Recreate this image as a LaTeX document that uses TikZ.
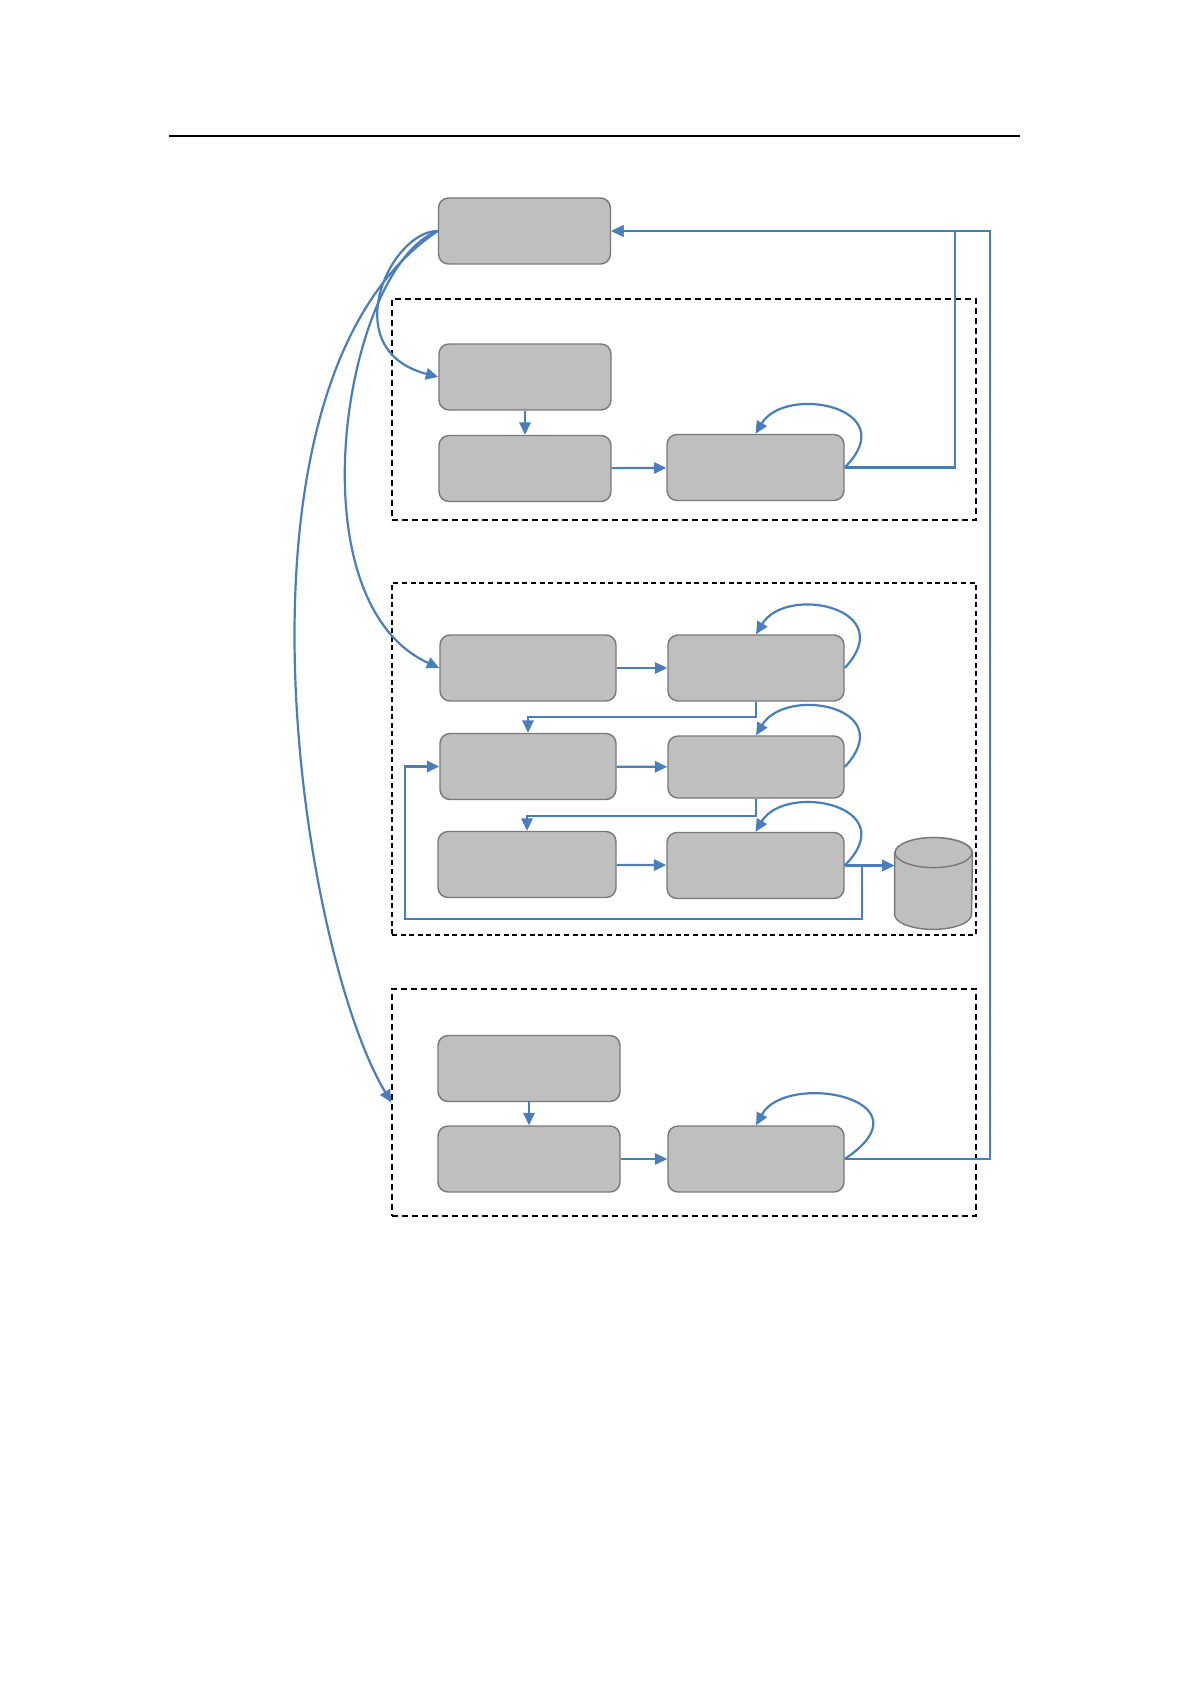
\documentclass[tikz,border=0pt]{standalone}
\usetikzlibrary{arrows.meta,positioning,calc,shapes.geometric}
\definecolor{flowblue}{RGB}{74,126,187}
\definecolor{boxgray}{RGB}{191,191,191}
\definecolor{boxline}{RGB}{120,120,120}
\tikzset{
  >={Triangle[length=2.2mm,width=2mm]},
  gbox/.style={draw=boxline, fill=boxgray, rounded corners=5pt, line width=0.7pt,
               minimum width=86pt, minimum height=33pt, inner sep=0pt},
  grpframe/.style={draw, dashed, line width=0.6pt, dash pattern=on 3pt off 2pt,
                   minimum width=292pt, inner sep=0pt},
  arr/.style={->, draw=flowblue, line width=1.1pt},
  selfloop/.style={arr},
  dbshape/.style={draw=boxline, fill=boxgray, line width=0.7pt},
}

\begin{document}
\begin{tikzpicture}[x=0.5pt, y=-0.5pt]
  \useasboundingbox (0,0) rectangle (1191,1684);
  \draw[line width=0.6pt] (169,136) -- (1020,136);

  % frames
  \node[grpframe, minimum height=110.5pt] (g1) at (684,409.5) {};
  \node[grpframe, minimum height=176pt, dash pattern=on 2.5pt off 1.8pt, line width=0.55pt] (g2) at (684,759) {};
  \node[grpframe, minimum height=113.5pt] (g3) at (684,1102.5) {};

  % boxes
  \node[gbox] (top) at (524.5,231) {};
  \node[gbox] (b1a) at (525,377) {};
  \node[gbox] (b1b) at (525,468.5) {};
  \node[gbox, minimum width=88.5pt] (b1c) at (755.5,467.5) {};

  \node[gbox, minimum width=88pt] (b2a) at (528,668) {};
  \node[gbox, minimum width=88pt] (b2b) at (756,668) {};
  \node[gbox, minimum width=88pt] (b2c) at (528,766.5) {};
  \node[gbox, minimum width=88pt, minimum height=31pt] (b2d) at (756,767) {};
  \node[gbox, minimum width=89pt] (b2e) at (527,864.5) {};
  \node[gbox, minimum width=88.5pt] (b2f) at (755.5,865.5) {};

  % database
  \node[minimum width=38.5pt, minimum height=45.5pt, inner sep=0pt] (db) at (933.5,883.5) {};
  \draw[dbshape] ($(db.north west)+(0,-7.5pt)$) -- ($(db.south west)+(0,7.5pt)$)
    arc[start angle=180, end angle=360, x radius=19.25pt, y radius=7.5pt]
    -- ($(db.north east)+(0,-7.5pt)$)
    arc[start angle=0, end angle=180, x radius=19.25pt, y radius=7.5pt] -- cycle;
  \draw[dbshape] ($(db.north)+(0,-7.5pt)$) ellipse [x radius=19.25pt, y radius=7.5pt];

  \node[gbox, minimum width=91pt] (b3a) at (529,1068.5) {};
  \node[gbox, minimum width=91pt] (b3b) at (529,1159) {};
  \node[gbox, minimum width=88pt] (b3c) at (756,1159) {};

  \coordinate (fb1) at (955,231);
  \coordinate (fb3) at (990,231);
  \coordinate (dbin) at (db.west |- b2f.east);
  \coordinate (fbA) at (862,865);
  \coordinate (fbB) at (862,919);
  \coordinate (fbC) at (405,919);

  % from the top box
  \draw[arr] (top.west) .. controls (390,231) and (335,350) .. (b1a.west);
  \draw[arr] (top.west) .. controls (345,265) and (290,600) .. (b2a.west);
  \draw[arr] (top.west) .. controls (212,382) and (300,950) .. (g3.west);

  % first group
  \draw[arr] (b1a) -- (b1b);
  \draw[arr] (b1b) -- (b1c);
  \draw[selfloop] (b1c.east) .. controls +(60,-60) and +(30,-50) .. (b1c.north);
  \draw[arr] (b1c.east) -| (fb1) -- (top.east);

  % second group
  \draw[arr] (b2a) -- (b2b);
  \draw[selfloop] (b2b.east) .. controls +(56,-60) and +(30,-50) .. (b2b.north);
  \draw[arr] (b2b.south) -- ++(0,15) -| (b2c.north);
  \draw[arr] (b2c) -- (b2d);
  \draw[selfloop] (b2d.east) .. controls +(56,-60) and +(30,-50) .. (b2d.north);
  \draw[arr] (b2d.south) -- ++(0,17) -| (b2e.north);
  \draw[arr] (b2e) -- (b2f);
  \draw[selfloop] (b2f.east) .. controls +(60,-60) and +(30,-50) .. (b2f.north);
  \draw[arr] (b2f.east) -- (dbin);
  \draw[arr] (fbA) -- (fbB) -- (fbC) |- (b2c.west);

  % third group
  \draw[arr] (b3a) -- (b3b);
  \draw[arr] (b3b) -- (b3c);
  \draw[selfloop] (b3c.east) .. controls +(90,-60) and +(30,-55) .. (b3c.north);
  \draw[arr] (b3c.east) -| (fb3) -- (top.east);
\end{tikzpicture}
\end{document}
